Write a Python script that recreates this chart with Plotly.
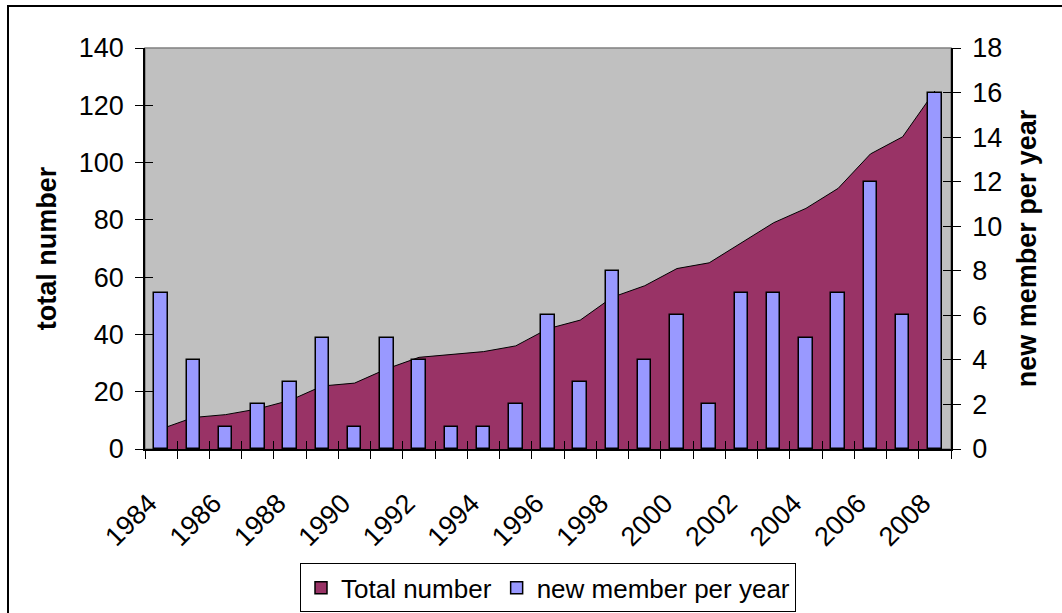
import plotly.graph_objects as go

years = list(range(1984, 2009))
total_number = [7, 11, 12, 14, 17, 22, 23, 28, 32, 33, 34, 36, 42, 45, 53,
                57, 63, 65, 72, 79, 84, 91, 103, 109, 125]
new_members = [7, 4, 1, 2, 3, 5, 1, 5, 4, 1, 1, 2, 6, 3, 8,
               4, 6, 2, 7, 7, 5, 7, 12, 6, 16]
label_years = years[::2]
boundaries = [y - 0.5 for y in years] + [years[-1] + 0.5]

FONT = "Liberation Sans, Arial, sans-serif"
AREA_COLOR = "#993366"
BAR_COLOR = "#9999FF"
xr = [years[0] - 0.5, years[-1] + 0.5]

fig = go.Figure()
# legend-only entry giving the area series a square swatch (as in the original)
fig.add_trace(go.Bar(
    x=[None], y=[None], name="Total number",
    marker=dict(color=AREA_COLOR, line=dict(color="black", width=1.5)),
    xaxis="x", yaxis="y", legendrank=1))
fig.add_trace(go.Scatter(
    x=years, y=total_number, name="Total number", mode="lines",
    fill="tozeroy", fillcolor=AREA_COLOR, showlegend=False,
    line=dict(color="black", width=1), xaxis="x", yaxis="y"))
fig.add_trace(go.Bar(
    x=years, y=new_members, name="new member per year",
    marker=dict(color=BAR_COLOR, line=dict(color="black", width=1.5)),
    width=0.42, xaxis="x", yaxis="y2", legendrank=2))
# empty helper traces so the overlay tick axes get drawn
fig.add_trace(go.Scatter(x=[], y=[], xaxis="x2", yaxis="y3", showlegend=False))
fig.add_trace(go.Scatter(x=[], y=[], xaxis="x2", yaxis="y4", showlegend=False))

tickfont = dict(family=FONT, size=27, color="black")
fig.update_layout(
    width=1062, height=613,
    margin=dict(l=145, r=111, t=48, b=164, autoexpand=False),
    paper_bgcolor="white", plot_bgcolor="#C0C0C0",
    font=dict(family=FONT, size=27, color="black"),
    bargap=0, barmode="overlay",
    xaxis=dict(range=xr, tickvals=label_years, ticktext=[str(y) for y in label_years],
               tickangle=-45, ticks="", tickfont=tickfont, automargin=False,
               ticklabelstandoff=26, ticklabelshift=-12,
               showline=True, linecolor="black", linewidth=1.5,
               showgrid=False, zeroline=False,
               minor=dict(tickvals=boundaries, ticks="outside", ticklen=8,
                          tickcolor="black", tickwidth=1, showgrid=False)),
    xaxis2=dict(range=xr, overlaying="x", anchor="y", side="bottom", automargin=False,
                tickvals=boundaries, ticks="inside", ticklen=8, tickcolor="black",
                showticklabels=False, showline=False, showgrid=False, zeroline=False),
    yaxis=dict(range=[0, 140], dtick=20, ticks="outside", ticklen=8, tickcolor="black",
               tickfont=tickfont, automargin=False, ticklabelstandoff=6,
               showline=True, linecolor="black", linewidth=1.5,
               showgrid=False, zeroline=False,
               title=dict(text="<b>total number</b>", font=dict(family=FONT, size=27),
                          standoff=14)),
    yaxis2=dict(range=[0, 18], dtick=2, overlaying="y", side="right", anchor="x",
                ticks="outside", ticklen=8, tickcolor="black", tickfont=tickfont,
                automargin=False, ticklabelstandoff=6,
                showline=True, linecolor="black", linewidth=1.5,
                showgrid=False, zeroline=False,
                title=dict(text="<b>new member per year</b>", font=dict(family=FONT, size=27),
                           standoff=16)),
    yaxis3=dict(range=[0, 140], dtick=20, overlaying="y", side="left", anchor="x",
                ticks="inside", ticklen=8, tickcolor="black", showticklabels=False,
                automargin=False, showline=False, showgrid=False, zeroline=False),
    yaxis4=dict(range=[0, 18], dtick=2, overlaying="y", side="right", anchor="x",
                ticks="inside", ticklen=8, tickcolor="black", showticklabels=False,
                automargin=False, showline=False, showgrid=False, zeroline=False),
    legend=dict(orientation="h", x=0.5, xanchor="center", y=-0.285, yanchor="top",
                bordercolor="black", borderwidth=1, bgcolor="white",
                font=dict(family=FONT, size=26), tracegroupgap=0),
    shapes=[
        dict(type="rect", xref="paper", yref="paper", x0=0, x1=1, y0=0, y1=1,
             line=dict(color="#808080", width=1.5), layer="below"),
        dict(type="rect", xref="paper", yref="paper",
             x0=(8 - 145) / 806, x1=1.2, y0=-0.6, y1=(449 - 6) / 401,
             line=dict(color="black", width=2), layer="below"),
    ],
)

fig.write_html("out.html")
